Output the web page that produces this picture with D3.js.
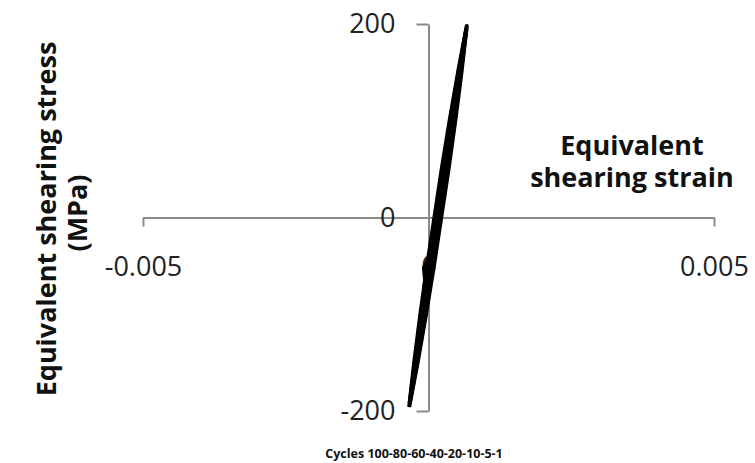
<!DOCTYPE html>
<html>
<head>
<meta charset="utf-8">
<script src="https://cdn.jsdelivr.net/npm/d3@7"></script>
<style>
  body { margin: 0; background: #fff; }
  svg { display: block; font-family: "Open Sans", sans-serif; }
</style>
</head>
<body>
<div class="center"></div>
<script>
// data
var xTicks = [-0.005, 0, 0.005];
var xTickLabels = ["-0.005", "0", "0.005"];
var yTicks = [-200, 0, 200];
var yTickLabels = ["-200", "0", "200"];

// hysteresis loops (strain, stress in MPa)
var loopAStrain = [-0.000339, -0.000191, -0.000043, 0.000095, 0.000223, 0.000351, 0.000469, 0.000577, 0.000670,
                   0.000517, 0.000369, 0.000231, 0.000103, -0.000025, -0.000143, -0.000251, -0.000339];
var loopAStress = [-196, -150, -100, -50, 0, 50, 100, 150, 198,
                   150, 100, 50, 0, -50, -100, -150, -196];
var loopBStrain = [-0.000329, -0.000201, -0.000053, 0.000075, 0.000203, 0.000331, 0.000459, 0.000567, 0.000663,
                   0.000527, 0.000379, 0.000251, 0.000123, -0.000005, -0.000133, -0.000241, -0.000329];
var loopBStress = [-192, -150, -100, -50, 0, 50, 100, 150, 195,
                   150, 100, 50, 0, -50, -100, -150, -192];
var loopCStrain = [-0.000314, -0.000211, -0.000073, 0.000055, 0.000183, 0.000311, 0.000439, 0.000557, 0.000650,
                   0.000537, 0.000399, 0.000271, 0.000143, 0.000030, -0.000080, -0.000060, -0.000113, -0.000231, -0.000314];
var loopCStress = [-186, -150, -100, -50, 0, 50, 100, 150, 190,
                   150, 100, 50, 0, -40, -52, -65, -100, -150, -186];

var width = 755, height = 463;

var x = d3.scaleLinear().domain([-0.005, 0.005]).range([143, 714]);
var y = d3.scaleLinear().domain([-200, 200]).range([411, 24]);

var svg = d3.select("div.center").append("svg")
    .attr("width", width)
    .attr("height", height);

var axisColor = "#8a8a8a";

// x axis, crossing at stress 0
var gx = svg.append("g")
    .attr("transform", "translate(0," + y(0) + ")")
    .call(d3.axisBottom(x)
        .tickValues(xTicks)
        .tickFormat(function(d, i) { return xTickLabels[i]; })
        .tickSizeInner(9)
        .tickSizeOuter(0)
        .tickPadding(30));

// y axis, crossing at strain 0
var gy = svg.append("g")
    .attr("transform", "translate(" + x(0) + ",0)")
    .call(d3.axisLeft(y)
        .tickValues(yTicks)
        .tickFormat(function(d, i) { return yTickLabels[i]; })
        .tickSizeInner(12)
        .tickSizeOuter(0)
        .tickPadding(21));

[gx, gy].forEach(function(g) {
    g.select(".domain").attr("stroke", axisColor).attr("stroke-width", 2);
    g.selectAll(".tick line").attr("stroke", axisColor).attr("stroke-width", 2);
    g.selectAll(".tick text")
        .attr("fill", "#222")
        .style("font-size", "27px")
        .style("font-family", "'Open Sans', sans-serif");
});

// the loops
var line = d3.line()
    .x(function(d) { return x(d[0]); })
    .y(function(d) { return y(d[1]); });

[[loopAStrain, loopAStress], [loopBStrain, loopBStress], [loopCStrain, loopCStress]].forEach(function(l) {
    var pts = l[0].map(function(s, i) { return [s, l[1][i]]; });
    svg.append("path")
        .datum(pts)
        .attr("fill", "none")
        .attr("stroke", "#000")
        .attr("stroke-width", 4)
        .attr("stroke-linejoin", "round")
        .attr("d", line);
});

// axis titles
svg.append("text")
    .attr("transform", "translate(56,219) rotate(-90)")
    .attr("text-anchor", "middle")
    .attr("font-weight", "bold")
    .attr("font-size", 27)
    .attr("fill", "#111")
    .text("Equivalent shearing stress");
svg.append("text")
    .attr("transform", "translate(87,213) rotate(-90)")
    .attr("text-anchor", "middle")
    .attr("font-weight", "bold")
    .attr("font-size", 27)
    .attr("fill", "#111")
    .text("(MPa)");

svg.append("text")
    .attr("x", 632).attr("y", 155)
    .attr("text-anchor", "middle")
    .attr("font-weight", "bold")
    .attr("font-size", 27)
    .attr("fill", "#111")
    .text("Equivalent");
svg.append("text")
    .attr("x", 632).attr("y", 187)
    .attr("text-anchor", "middle")
    .attr("font-weight", "bold")
    .attr("font-size", 27)
    .attr("fill", "#111")
    .text("shearing strain");

svg.append("text")
    .attr("x", 414).attr("y", 458)
    .attr("text-anchor", "middle")
    .attr("font-weight", "bold")
    .attr("font-size", 12.5)
    .attr("fill", "#111")
    .text("Cycles 100-80-60-40-20-10-5-1");
</script>
</body>
</html>
